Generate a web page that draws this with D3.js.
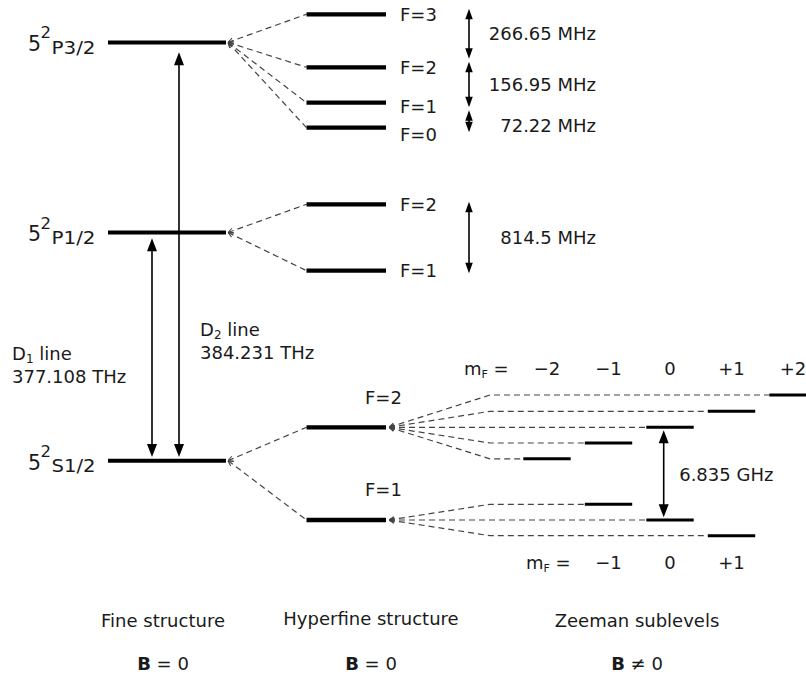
<!DOCTYPE html>
<html>
<head>
<meta charset="utf-8">
<script src="https://cdn.jsdelivr.net/npm/d3@7"></script>
<style>
  body { margin: 0; background: #fff; }
  text { font-family: "DejaVu Sans", Verdana, sans-serif; fill: #1a1a1a; }
</style>
</head>
<body>
<svg id="chart" width="806" height="675"></svg>
<script>
// Rb-87 D-line level scheme. Heights are schematic (not to scale).
const fineTerms  = ["S", "P", "P"];
const fineJ      = ["1/2", "1/2", "3/2"];
const fineHeight = [0, 228.2, 418.3];

// Hyperfine levels: parent fine level, F, schematic offset from parent
const hfParent = [2, 2, 2, 2, 1, 1, 0, 0];
const hfF      = [3, 2, 1, 0, 2, 1, 2, 1];
const hfOffset = [28.1, -24.9, -60.3, -85.3, 28.2, -38.2, 33.4, -59.3];

// Hyperfine splittings (labelled between neighbouring F levels)
const splitUpper  = [0, 1, 2, 4];
const splitLower  = [1, 2, 3, 5];
const splitLabels = ["266.65 MHz", "156.95 MHz", "72.22 MHz", "814.5 MHz"];

// Optical D lines
const lineIndex = ["1", "2"];
const lineFreq  = ["377.108 THz", "384.231 THz"];
const lineUpper = [1, 2];

// Zeeman sublevels of the ground state (schematic shifts, B ≠ 0)
const mF2      = [-2, -1, 0, 1, 2];
const shiftF2  = [-31.5, -15.7, 0, 16, 32.3];
const mF1      = [-1, 0, 1];
const shiftF1  = [15.7, 0, -15.7];
const groundSplit = "6.835 GHz";

const captions  = ["Fine structure", "Hyperfine structure", "Zeeman sublevels"];
const fieldSign = ["=", "=", "≠"];

const svg = d3.select("#chart");
const y = d3.scaleLinear().domain([0, 460.7]).range([460.7, 0]);
const xm = d3.scaleLinear().domain([-2, 2]).range([547, 793]);

const fineX = [108, 226];
const hfX = [306.5, 386];
const zHalf = 23.7;
const dash = { stroke: "#444", width: 1.2, array: "6 4" };

svg.append("defs").append("marker")
  .attr("id", "chev").attr("viewBox", "0 -4 8 8")
  .attr("refX", 0).attr("refY", 0)
  .attr("markerUnits", "userSpaceOnUse")
  .attr("markerWidth", 7).attr("markerHeight", 7)
  .attr("orient", "auto")
  .append("path").attr("d", "M6,-3L0,0L6,3")
  .attr("fill", "none").attr("stroke", "#444").attr("stroke-width", 1.2);

function dashed(points) {
  svg.append("path")
    .attr("d", d3.line()(points))
    .attr("fill", "none")
    .attr("stroke", dash.stroke).attr("stroke-width", dash.width)
    .attr("stroke-dasharray", dash.array)
    .attr("marker-start", "url(#chev)");
}

function bar(x0, x1, yy, w) {
  svg.append("line")
    .attr("x1", x0).attr("x2", x1).attr("y1", yy).attr("y2", yy)
    .attr("stroke", "#000").attr("stroke-width", w);
}

function arrow(x, y1, y2, hw, hl) {
  svg.append("line")
    .attr("x1", x).attr("x2", x).attr("y1", y1 + hl - 1).attr("y2", y2 - hl + 1)
    .attr("stroke", "#000").attr("stroke-width", 1.6);
  svg.append("path")
    .attr("d", `M${x},${y1}L${x - hw / 2},${y1 + hl}L${x + hw / 2},${y1 + hl}Z`)
    .attr("fill", "#000");
  svg.append("path")
    .attr("d", `M${x},${y2}L${x - hw / 2},${y2 - hl}L${x + hw / 2},${y2 - hl}Z`)
    .attr("fill", "#000");
}

const fineY = fineHeight.map(h => y(h));
const hfY = hfOffset.map((o, i) => y(fineHeight[hfParent[i]] + o));

// dashed connectors fine -> hyperfine
hfY.forEach((yy, i) => dashed([[fineX[1] + 2, fineY[hfParent[i]]], [hfX[0], yy]]));

// Zeeman fans
const zKink = 490;
const zF2y = mF2.map((m, i) => y(fineHeight[0] + hfOffset[6] + shiftF2[i]));
const zF1y = mF1.map((m, i) => y(fineHeight[0] + hfOffset[7] + shiftF1[i]));
mF2.forEach((m, i) => dashed([[hfX[1] + 3, hfY[6]], [zKink, zF2y[i]], [xm(m) - zHalf, zF2y[i]]]));
mF1.forEach((m, i) => dashed([[hfX[1] + 3, hfY[7]], [zKink, zF1y[i]], [xm(m) - zHalf, zF1y[i]]]));

// fine-structure levels and term labels
fineY.forEach((yy, i) => {
  bar(fineX[0], fineX[1], yy, 4);
  svg.append("text").attr("x", 28).attr("y", yy + 8.8).attr("font-size", 20.5).text("5");
  svg.append("text").attr("x", 40.5).attr("y", yy - 4).attr("font-size", 16.5).text("2");
  svg.append("text").attr("x", 51.5).attr("y", yy + 11.5).attr("font-size", 17)
    .attr("textLength", 44).attr("lengthAdjust", "spacingAndGlyphs")
    .text(fineTerms[i] + fineJ[i]);
});

// hyperfine levels and F labels
const labelNudge = { 2: 4, 3: 7 };
hfY.forEach((yy, i) => {
  bar(hfX[0], hfX[1], yy, 4.3);
  if (i < 6) {
    svg.append("text").attr("x", 400).attr("y", yy + (labelNudge[i] || 0))
      .attr("dy", "0.35em").attr("font-size", 18).text("F=" + hfF[i]);
  } else {
    svg.append("text").attr("x", 365).attr("y", yy - 30)
      .attr("dy", "0.35em").attr("font-size", 18).text("F=" + hfF[i]);
  }
});

// Zeeman sublevel bars
mF2.forEach((m, i) => bar(xm(m) - zHalf, xm(m) + zHalf, zF2y[i], 3));
mF1.forEach((m, i) => bar(xm(m) - zHalf, xm(m) + zHalf, zF1y[i], 3));

// D line arrows and labels
const lineX = [152, 179];
const topPad = [5.8, 9.9];
lineUpper.forEach((u, i) => {
  arrow(lineX[i], fineY[u] + topPad[i], fineY[0] - 3.7, 10, 13);
});
const lineLabelX = [12, 200];
const lineLabelY = [360, 336];
lineIndex.forEach((idx, i) => {
  const t = svg.append("text").attr("x", lineLabelX[i]).attr("y", lineLabelY[i]).attr("font-size", 18);
  t.append("tspan").text("D");
  t.append("tspan").attr("font-size", 12).attr("dy", 3).text(idx);
  t.append("tspan").attr("dy", -3).text(" line");
  svg.append("text").attr("x", lineLabelX[i]).attr("y", lineLabelY[i] + 22.5)
    .attr("font-size", 18).text(lineFreq[i]);
});

// hyperfine splitting arrows
const splitX = 469;
const splitTop = [];
const splitBot = [];
splitUpper.forEach((u, i) => {
  let t, b;
  if (i === 0) { t = hfY[u] - 5.5; b = hfY[splitLower[i]] - 8.5; }
  else if (i < 3) { t = splitBot[i - 1] + 3; b = hfY[splitLower[i]] + 4.5; }
  else { t = hfY[u] - 2.5; b = hfY[splitLower[i]] + 2.5; }
  splitTop.push(t); splitBot.push(b);
  arrow(splitX, t, b, 7.5, 10.5);
  svg.append("text").attr("x", 596).attr("y", (t + b) / 2 + (i === 2 ? 4 : 0))
    .attr("dy", "0.35em").attr("font-size", 18).attr("text-anchor", "end")
    .text(splitLabels[i]);
});

// ground-state hyperfine splitting
const gx = xm(0) - 6.3;
arrow(gx, zF2y[2] + 3, zF1y[1] - 2.7, 10, 13);
svg.append("text").attr("x", gx + 15.5).attr("y", (zF2y[2] + zF1y[1]) / 2 + 1.5)
  .attr("dy", "0.35em").attr("font-size", 18).text(groundSplit);

// m_F rows
function mfRow(x, yy, vals) {
  const t = svg.append("text").attr("x", x).attr("y", yy).attr("font-size", 18);
  t.append("tspan").text("m");
  t.append("tspan").attr("font-size", 11).attr("dy", 3).text("F");
  t.append("tspan").attr("dy", -3).text(" =");
  vals.forEach(m => {
    svg.append("text").attr("x", xm(m)).attr("y", yy).attr("font-size", 18)
      .attr("text-anchor", "middle")
      .text(m === 0 ? "0" : (m > 0 ? "+" + m : "\u2212" + Math.abs(m)));
  });
}
mfRow(464, 374.5, mF2);
mfRow(526, 568.5, mF1);

// captions
const capX = [163, 371, 637];
const capY = [627, 625, 627];
captions.forEach((c, i) => {
  svg.append("text").attr("x", capX[i]).attr("y", capY[i]).attr("font-size", 18)
    .attr("text-anchor", "middle").text(c);
  const t = svg.append("text").attr("x", capX[i]).attr("y", 670).attr("font-size", 18)
    .attr("text-anchor", "middle");
  t.append("tspan").attr("font-weight", "bold").text("B");
  t.append("tspan").text(" " + fieldSign[i] + " 0");
});
</script>
</body>
</html>
